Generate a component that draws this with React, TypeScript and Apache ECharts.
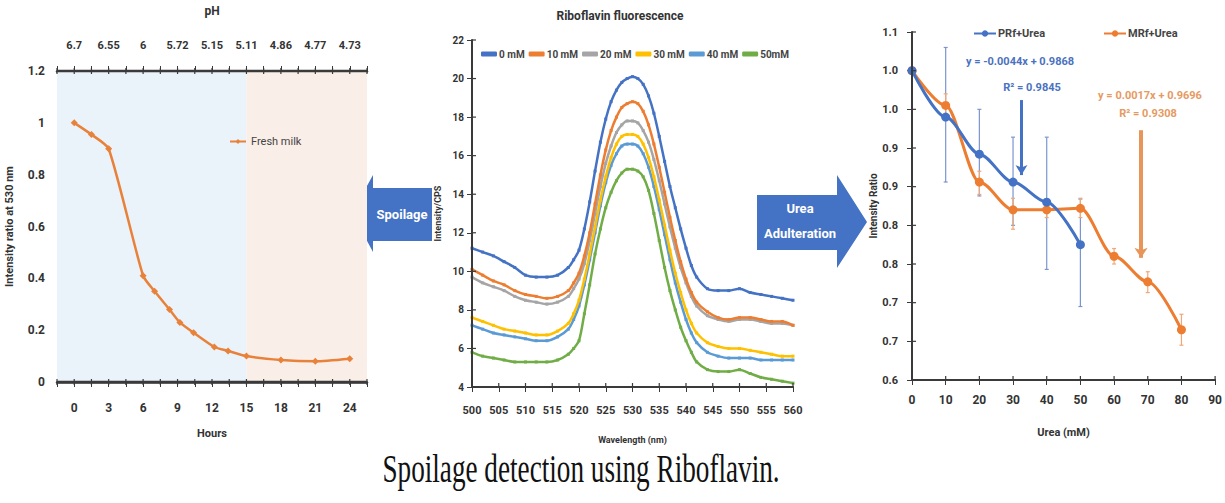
import React, { useEffect, useRef } from "react";
import * as echarts from "echarts";

// ---------- Panel 1: spoilage (fresh milk) ----------
const hours = [0, 1.5, 3, 6, 7, 8.3, 9.2, 10.4, 12.2, 13.4, 15, 18, 21, 24];
const freshMilk = [1.0, 0.955, 0.9, 0.41, 0.35, 0.28, 0.23, 0.19, 0.135, 0.12, 0.1, 0.085, 0.08, 0.09];
const hourTicks = [0, 3, 6, 9, 12, 15, 18, 21, 24];
const phLabels = ["6.7", "6.55", "6", "5.72", "5.15", "5.11", "4.86", "4.77", "4.73"];

// ---------- Panel 2: riboflavin fluorescence spectra ----------
const wavelengths = [500, 502, 504, 506, 508, 510, 512, 514, 516, 518, 519, 520, 521, 522, 523, 524, 525, 526, 527, 528, 529, 530, 531, 532, 533, 534, 535, 536, 537, 538, 539, 540, 541, 542, 544, 546, 548, 550, 552, 554, 556, 558, 560];
const spectrumNames = ["0 mM", "10 mM", "20 mM", "30 mM", "40 mM", "50mM"];
const spec0 = [11.2, 11.0, 10.8, 10.5, 10.2, 9.8, 9.7, 9.7, 9.8, 10.2, 10.6, 11.1, 12.2, 13.6, 15.2, 16.7, 17.9, 18.8, 19.4, 19.8, 20.0, 20.1, 20.0, 19.7, 19.1, 18.2, 17.0, 15.7, 14.4, 13.3, 12.2, 11.2, 10.3, 9.7, 9.1, 9.0, 9.0, 9.1, 8.9, 8.8, 8.7, 8.6, 8.5];
const spec10 = [10.1, 9.8, 9.5, 9.3, 9.0, 8.8, 8.7, 8.6, 8.7, 9.0, 9.4, 9.9, 10.8, 12.0, 13.5, 15.0, 16.3, 17.3, 18.0, 18.5, 18.7, 18.8, 18.7, 18.3, 17.6, 16.6, 15.4, 14.1, 12.8, 11.6, 10.5, 9.6, 8.9, 8.4, 7.9, 7.6, 7.5, 7.6, 7.6, 7.5, 7.4, 7.4, 7.2];
const spec20 = [9.7, 9.4, 9.2, 9.0, 8.7, 8.5, 8.4, 8.3, 8.4, 8.7, 9.1, 9.6, 10.4, 11.6, 13.0, 14.4, 15.6, 16.5, 17.2, 17.6, 17.8, 17.8, 17.7, 17.3, 16.7, 15.8, 14.7, 13.5, 12.3, 11.2, 10.2, 9.4, 8.7, 8.2, 7.7, 7.5, 7.4, 7.5, 7.5, 7.4, 7.3, 7.3, 7.2];
const spec30 = [7.6, 7.4, 7.2, 7.0, 6.9, 6.8, 6.7, 6.7, 6.9, 7.3, 7.8, 8.5, 9.6, 10.9, 12.3, 13.7, 14.9, 15.9, 16.6, 17.0, 17.1, 17.1, 17.0, 16.6, 15.9, 14.9, 13.7, 12.4, 11.1, 9.9, 8.9, 8.0, 7.3, 6.8, 6.3, 6.1, 6.0, 6.0, 5.9, 5.8, 5.7, 5.6, 5.6];
const spec40 = [7.2, 7.0, 6.8, 6.7, 6.6, 6.5, 6.4, 6.4, 6.6, 7.0, 7.5, 8.2, 9.3, 10.6, 12.0, 13.4, 14.6, 15.5, 16.1, 16.5, 16.6, 16.6, 16.5, 16.1, 15.4, 14.4, 13.2, 11.9, 10.6, 9.4, 8.4, 7.5, 6.8, 6.3, 5.8, 5.6, 5.5, 5.5, 5.5, 5.4, 5.4, 5.4, 5.4];
const spec50 = [5.8, 5.6, 5.5, 5.4, 5.3, 5.3, 5.3, 5.3, 5.4, 5.7, 6.0, 6.4, 7.8, 9.3, 10.9, 12.2, 13.3, 14.1, 14.7, 15.1, 15.3, 15.3, 15.2, 14.9, 14.2, 13.0, 11.6, 10.2, 9.0, 8.0, 7.1, 6.4, 5.8, 5.3, 4.9, 4.8, 4.8, 4.9, 4.7, 4.5, 4.4, 4.3, 4.2];
const spectra = [spec0, spec10, spec20, spec30, spec40, spec50];
const spectrumColors = ["#4472c4", "#ed7d31", "#a5a5a5", "#ffc000", "#5b9bd5", "#70ad47"];

// ---------- Panel 3: urea adulteration ----------
const ureaPRf = [0, 10, 20, 30, 40, 50];
const ratioPRf = [1.0, 0.94, 0.892, 0.856, 0.83, 0.775];
const errLowPRf = [1.0, 0.856, 0.838, 0.8, 0.743, 0.695];
const errHighPRf = [1.0, 1.03, 0.95, 0.914, 0.914, 0.834];
const ureaMRf = [0, 10, 20, 30, 40, 50, 60, 70, 80];
const ratioMRf = [1.0, 0.955, 0.856, 0.82, 0.82, 0.822, 0.76, 0.727, 0.665];
const errLowMRf = [1.0, 0.94, 0.84, 0.795, 0.81, 0.81, 0.75, 0.713, 0.645];
const errHighMRf = [1.0, 0.97, 0.87, 0.835, 0.83, 0.835, 0.77, 0.74, 0.685];
const ratioTickLabels = ["0.6", "0.7", "0.7", "0.8", "0.8", "0.9", "0.9", "1.0", "1.0", "1.1"];

const FONT = "Roboto";
const AXIS_DARK = "#3a3a3a";

function errorBarSeries(name: string, xs: number[], lo: number[], hi: number[], color: string, xIdx: number, yIdx: number) {
  return {
    type: "custom",
    name,
    xAxisIndex: xIdx,
    yAxisIndex: yIdx,
    silent: true,
    z: 1,
    encode: { x: 0, y: [1, 2] },
    data: xs.map((x, i) => [x, lo[i], hi[i]]),
    renderItem: (params: any, api: any) => {
      const x = api.value(0);
      const top = api.coord([x, api.value(2)]);
      const bot = api.coord([x, api.value(1)]);
      const st = { stroke: color, lineWidth: 1.2 };
      return {
        type: "group",
        children: [
          { type: "line", shape: { x1: top[0], y1: top[1], x2: bot[0], y2: bot[1] }, style: st },
          { type: "line", shape: { x1: top[0] - 2, y1: top[1], x2: top[0] + 2, y2: top[1] }, style: st },
          { type: "line", shape: { x1: bot[0] - 2, y1: bot[1], x2: bot[0] + 2, y2: bot[1] }, style: st },
        ],
      };
    },
  };
}

export default function App() {
  const ref = useRef<HTMLDivElement>(null);
  useEffect(() => {
    if (!ref.current) return;
    const chart = echarts.init(ref.current, null, { renderer: "svg" });
    const isTick3 = (v: number) => {
      const r = Math.round(v * 10) / 10;
      return r >= 0 && r <= 24 && Math.abs(r / 3 - Math.round(r / 3)) < 1e-6;
    };
    const labelBase = { fontFamily: FONT, fontSize: 11, fontWeight: "bold" as const, color: "#333" };
    const darkLine = (w: number) => ({ show: true, onZero: false, lineStyle: { color: AXIS_DARK, width: w } });
    const darkTick = () => ({ show: true, lineStyle: { color: AXIS_DARK } });

    const baseGraphic: any[] = [
      {
        type: "polygon",
        silent: true,
        shape: { points: [[352, 213], [373, 175], [373, 188], [432, 188], [432, 241], [373, 241], [373, 252]] },
        style: { fill: "#4472c4" },
      },
      {
        type: "text",
        x: 402,
        y: 214,
        silent: true,
        style: { text: "Spoilage", fill: "#ffffff", font: `bold 13px ${FONT}`, textAlign: "center", textVerticalAlign: "middle" },
      },
      {
        type: "polygon",
        silent: true,
        shape: { points: [[757, 195], [837, 195], [837, 175], [867, 222], [837, 268], [837, 250], [757, 250]] },
        style: { fill: "#4472c4" },
      },
      {
        type: "text",
        x: 800,
        y: 208,
        silent: true,
        style: { text: "Urea", fill: "#ffffff", font: `bold 13px ${FONT}`, textAlign: "center", textVerticalAlign: "middle" },
      },
      {
        type: "text",
        x: 800,
        y: 233,
        silent: true,
        style: { text: "Adulteration", fill: "#ffffff", font: `bold 13px ${FONT}`, textAlign: "center", textVerticalAlign: "middle" },
      },
      {
        type: "text",
        x: 1020,
        y: 61,
        silent: true,
        style: { text: "y = -0.0044x + 0.9868", fill: "#4a72c0", font: `bold 11px ${FONT}`, textAlign: "center", textVerticalAlign: "middle" },
      },
      {
        type: "text",
        x: 1032,
        y: 87,
        silent: true,
        style: { text: "R² = 0.9845", fill: "#4a72c0", font: `bold 11px ${FONT}`, textAlign: "center", textVerticalAlign: "middle" },
      },
      {
        type: "text",
        x: 1150,
        y: 95,
        silent: true,
        style: { text: "y = 0.0017x + 0.9696", fill: "#e59a62", font: `bold 11px ${FONT}`, textAlign: "center", textVerticalAlign: "middle" },
      },
      {
        type: "text",
        x: 1148,
        y: 113,
        silent: true,
        style: { text: "R² = 0.9308", fill: "#e59a62", font: `bold 11px ${FONT}`, textAlign: "center", textVerticalAlign: "middle" },
      },
      {
        type: "text",
        x: 581,
        y: 469,
        scaleX: 0.68,
        silent: true,
        style: {
          text: "Spoilage detection using Riboflavin.",
          fill: "#111111",
          font: `40px "Liberation Serif", serif`,
          textAlign: "center",
          textVerticalAlign: "middle",
        },
      },
    ];

    const option: any = {
      animation: false,
      textStyle: { fontFamily: FONT },
      title: [
        {
          text: "Riboflavin fluorescence",
          left: 615,
          textAlign: "center",
          top: 5,
          textStyle: { fontFamily: FONT, fontSize: 12, fontWeight: "bold", color: "#333" },
        },
      ],
      legend: [
        {
          data: ["Fresh milk"],
          left: 224,
          top: 131,
          itemWidth: 16,
          itemHeight: 6,
          textStyle: { fontFamily: FONT, fontSize: 11, color: "#444" },
        },
        {
          data: spectrumNames,
          left: 476,
          top: 44,
          itemWidth: 16,
          itemHeight: 5,
          itemGap: 4,
          icon: "roundRect",
          textStyle: { fontFamily: FONT, fontSize: 10, fontWeight: "bold", color: "#444", padding: [0, 0, 0, -3] },
        },
        {
          data: ["PRf+Urea"],
          left: 968,
          top: 23,
          itemWidth: 22,
          itemHeight: 8,
          textStyle: { fontFamily: FONT, fontSize: 11, fontWeight: "bold", color: "#444", padding: [0, 0, 0, -3] },
        },
        {
          data: ["MRf+Urea"],
          left: 1098,
          top: 23,
          itemWidth: 22,
          itemHeight: 8,
          textStyle: { fontFamily: FONT, fontSize: 11, fontWeight: "bold", color: "#444", padding: [0, 0, 0, -3] },
        },
      ],
      grid: [
        { left: 57, top: 68, width: 310, height: 314 },
        { left: 472, top: 40, width: 321, height: 347 },
        { left: 912, top: 32, width: 306, height: 348 },
      ],
      xAxis: [
        {
          gridIndex: 0,
          type: "value",
          min: -1.5,
          max: 25.5,
          interval: 1.5,
          position: "bottom",
          name: "Hours",
          nameLocation: "middle",
          nameGap: 46,
          nameTextStyle: { ...labelBase, fontSize: 11 },
          axisLine: darkLine(2.5),
          axisTick: darkTick(),
          splitLine: { show: false },
          axisLabel: { ...labelBase, fontSize: 12, margin: 20, formatter: (v: number) => (isTick3(v) ? String(Math.round(v)) : "") },
        },
        {
          gridIndex: 0,
          type: "value",
          min: -1.5,
          max: 25.5,
          interval: 1.5,
          position: "top",
          name: "pH",
          nameLocation: "middle",
          nameGap: 54,
          nameTextStyle: { ...labelBase, fontSize: 12 },
          axisLine: darkLine(2.5),
          axisTick: darkTick(),
          splitLine: { show: false },
          axisLabel: {
            ...labelBase,
            fontSize: 11,
            margin: 20,
            formatter: (v: number) => {
              if (!isTick3(v)) return "";
              const idx = hourTicks.indexOf(Math.round(v));
              return idx >= 0 ? phLabels[idx] : "";
            },
          },
        },
        {
          gridIndex: 1,
          type: "value",
          min: 500,
          max: 560,
          interval: 5,
          name: "Wavelength (nm)",
          nameLocation: "middle",
          nameGap: 48,
          nameTextStyle: { ...labelBase, fontSize: 9 },
          axisLine: darkLine(2),
          axisTick: darkTick(),
          splitLine: { show: false },
          axisLabel: { ...labelBase, fontSize: 11, margin: 18 },
        },
        {
          gridIndex: 2,
          type: "value",
          min: 0,
          max: 90,
          interval: 10,
          name: "Urea (mM)",
          nameLocation: "middle",
          nameGap: 47,
          nameTextStyle: { ...labelBase, fontSize: 11 },
          axisLine: darkLine(2),
          axisTick: darkTick(),
          splitLine: { show: false },
          axisLabel: { ...labelBase, fontSize: 12, margin: 14 },
        },
      ],
      yAxis: [
        {
          gridIndex: 0,
          type: "value",
          min: 0,
          max: 1.2,
          interval: 0.2,
          name: "Intensity ratio at 530 nm",
          nameLocation: "middle",
          nameGap: 42,
          nameTextStyle: { ...labelBase, fontSize: 11 },
          axisLine: { show: false },
          axisTick: { show: false },
          splitLine: { show: false },
          axisLabel: { ...labelBase, fontSize: 12, margin: 12 },
        },
        {
          gridIndex: 1,
          type: "value",
          min: 4,
          max: 22,
          interval: 2,
          name: "Intensity/CPS",
          nameLocation: "middle",
          nameGap: 30,
          nameTextStyle: { ...labelBase, fontSize: 9 },
          axisLine: darkLine(2),
          axisTick: darkTick(),
          splitLine: { show: false },
          axisLabel: { ...labelBase, fontSize: 10, margin: 8 },
        },
        {
          gridIndex: 2,
          type: "value",
          min: 0.6,
          max: 1.05,
          interval: 0.05,
          name: "Intensity Ratio",
          nameLocation: "middle",
          nameGap: 34,
          nameTextStyle: { ...labelBase, fontSize: 10 },
          axisLine: darkLine(2),
          axisTick: darkTick(),
          splitLine: { show: false },
          axisLabel: {
            ...labelBase,
            fontSize: 11,
            margin: 14,
            formatter: (v: number) => ratioTickLabels[Math.round((v - 0.6) / 0.05)] ?? "",
          },
        },
      ],
      series: [
        {
          type: "line",
          name: "Fresh milk",
          xAxisIndex: 0,
          yAxisIndex: 0,
          data: hours.map((h, i) => [h, freshMilk[i]]),
          smooth: 0.2,
          symbol: "diamond",
          symbolSize: 7,
          lineStyle: { color: "#e8823a", width: 2.5 },
          itemStyle: { color: "#e8823a" },
          z: 3,
          markArea: {
            silent: true,
            data: [
              [{ xAxis: -1.5, itemStyle: { color: "#eaf2fa" } }, { xAxis: 15 }],
              [{ xAxis: 15, itemStyle: { color: "#faefe8" } }, { xAxis: 25.5 }],
            ],
          },
        },
        ...spectra.map((vals, s) => ({
          type: "line",
          name: spectrumNames[s],
          xAxisIndex: 2,
          yAxisIndex: 1,
          data: wavelengths.map((w, i) => [w, vals[i]]),
          smooth: 0.3,
          symbol: "rect",
          symbolSize: 3,
          lineStyle: { color: spectrumColors[s], width: 2.5 },
          itemStyle: { color: spectrumColors[s] },
          z: 3 + (5 - s),
        })),
        errorBarSeries("PRf err", ureaPRf, errLowPRf, errHighPRf, "#7b96cf", 3, 2),
        errorBarSeries("MRf err", ureaMRf, errLowMRf, errHighMRf, "#f0a878", 3, 2),
        {
          type: "line",
          name: "PRf+Urea",
          xAxisIndex: 3,
          yAxisIndex: 2,
          data: ureaPRf.map((u, i) => [u, ratioPRf[i]]),
          smooth: 0.3,
          smoothMonotone: "x",
          symbol: "circle",
          symbolSize: 9,
          lineStyle: { color: "#4472c4", width: 3 },
          itemStyle: { color: "#4472c4" },
          z: 5,
          markLine: {
            silent: true,
            symbol: ["none", "arrow"],
            symbolSize: [9, 10],
            label: { show: false },
            lineStyle: { color: "#4472c4", width: 3, type: "solid" },
            data: [[{ coord: [32.5, 0.962] }, { coord: [32.5, 0.865] }]],
          },
        },
        {
          type: "line",
          name: "MRf+Urea",
          xAxisIndex: 3,
          yAxisIndex: 2,
          data: ureaMRf.map((u, i) => [u, ratioMRf[i]]),
          smooth: 0.3,
          smoothMonotone: "x",
          symbol: "circle",
          symbolSize: 9,
          lineStyle: { color: "#ed7d31", width: 3 },
          itemStyle: { color: "#ed7d31" },
          z: 4,
          markLine: {
            silent: true,
            symbol: ["none", "arrow"],
            symbolSize: [10, 10],
            label: { show: false },
            lineStyle: { color: "#e8955a", width: 4, type: "solid" },
            data: [[{ coord: [68, 0.923] }, { coord: [68, 0.758] }]],
          },
        },
      ],
      graphic: baseGraphic,
    };
    chart.setOption(option);

    // Axis frames and ticks, placed through the chart's own scales (convertToPixel).
    const axisGfx: any[] = [];
    const seg = (a: number[], b: number[], w: number) => {
      if (!a || !b) return;
      axisGfx.push({
        type: "line",
        silent: true,
        z: 100,
        shape: { x1: a[0], y1: a[1], x2: b[0], y2: b[1] },
        style: { stroke: AXIS_DARK, lineWidth: w },
      });
    };
    const P = (si: number, v: number[]) => chart.convertToPixel({ seriesIndex: si }, v) as unknown as number[];
    try {
      // Panel 1 (series 0): bottom and top axis lines with crossing ticks every 1.5 h
      seg(P(0, [-1.5, 0]), P(0, [25.5, 0]), 2.5);
      seg(P(0, [-1.5, 1.2]), P(0, [25.5, 1.2]), 2.5);
      for (let i = 0; i <= 18; i++) {
        const h = -1.5 + 1.5 * i;
        const b = P(0, [h, 0]);
        const t = P(0, [h, 1.2]);
        if (b) seg([b[0], b[1] - 3], [b[0], b[1] + 3], 1.2);
        if (t) seg([t[0], t[1] - 3], [t[0], t[1] + 3], 1.2);
      }
      // Panel 2 (series 1)
      seg(P(1, [500, 4]), P(1, [560, 4]), 2);
      seg(P(1, [500, 4]), P(1, [500, 22]), 2);
      for (let v = 500; v <= 560; v += 5) {
        const p = P(1, [v, 4]);
        if (p) seg([p[0], p[1]], [p[0], p[1] - 4], 1.2);
      }
      for (let v = 4; v <= 22; v += 2) {
        const p = P(1, [500, v]);
        if (p) seg([p[0], p[1]], [p[0] + 4, p[1]], 1.2);
      }
      // Panel 3 (series 9)
      seg(P(9, [0, 0.6]), P(9, [90, 0.6]), 2);
      seg(P(9, [0, 0.6]), P(9, [0, 1.05]), 2);
      for (let v = 0; v <= 90; v += 10) {
        const p = P(9, [v, 0.6]);
        if (p) seg([p[0], p[1]], [p[0], p[1] - 4], 1.2);
      }
      for (let k = 0; k <= 9; k++) {
        const p = P(9, [0, 0.6 + 0.05 * k]);
        if (p) seg([p[0], p[1]], [p[0] + 4, p[1]], 1.2);
      }
    } catch (e) {
      // ignore conversion failures
    }
    if (axisGfx.length) chart.setOption({ graphic: [...baseGraphic, ...axisGfx] });

    return () => chart.dispose();
  }, []);
  return <div ref={ref} style={{ position: "absolute", left: 0, top: 0, width: 1225, height: 503 }} />;
}
